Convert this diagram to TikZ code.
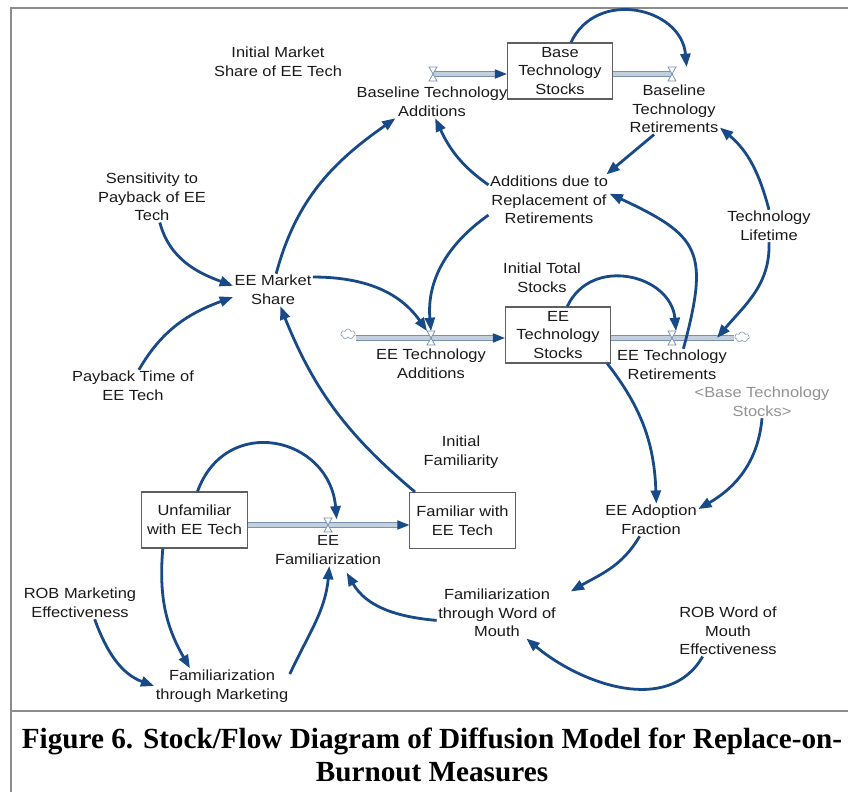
\documentclass[tikz,border=0pt]{standalone}
\usepackage{fontspec}
\setmainfont{Liberation Sans}[FakeStretch=1.12]
\newfontfamily\capfont{Liberation Serif}
\usetikzlibrary{arrows.meta,shapes.symbols}

\definecolor{linkblue}{RGB}{23,74,135}
\definecolor{pipeline}{RGB}{120,145,175}
\definecolor{pipefill}{RGB}{196,207,220}
\definecolor{framegray}{RGB}{140,140,140}
\definecolor{boxgray}{RGB}{95,95,95}
\definecolor{ghostgray}{RGB}{145,145,145}
\definecolor{labelgray}{RGB}{25,25,25}

\pgfdeclarelayer{back}
\pgfsetlayers{back,main}

\begin{document}
\begin{tikzpicture}[
  x=0.75pt, y=0.75pt,
  var/.style={align=center,inner sep=1pt,text=labelgray,font=\fontsize{11}{13.9}\selectfont},
  ghost/.style={var,text=ghostgray},
  stock/.style={var,draw=boxgray,line width=0.8pt,minimum width=79pt,minimum height=42pt},
  valve/.style={inner sep=0pt,minimum width=5.5pt,minimum height=10pt,
    append after command={\pgfextra{\draw[pipeline,line width=0.6pt,fill=white]
      (\tikzlastnode.north west) -- (\tikzlastnode.north east) --
      (\tikzlastnode.south west) -- (\tikzlastnode.south east) -- cycle;}}},
  cloudy/.style={cloud,cloud puffs=7,draw=pipeline,fill=white,inner sep=0pt,
    minimum width=11pt,minimum height=7.5pt},
  pipe/.style={draw=pipeline,double=pipefill,double distance=2.4pt,line width=0.8pt},
  pipehead/.style={-{Triangle[length=9pt,width=7pt,color=linkblue]}},
  link/.style={draw=linkblue,line width=2.1pt,-{Triangle[length=10pt,width=7.5pt]}}
]
\useasboundingbox (0,0) rectangle (848,-791);

% stocks
\node[stock] (bstock) at (560,-71) {Base\\Technology\\Stocks};
\node[stock] (eestock) at (558,-335) {EE\\Technology\\Stocks};
\node[stock] (unfam) at (194.5,-520) {Unfamiliar\\with EE Tech};
\node[stock] (fam) at (462.5,-520.5) {Familiar with\\EE Tech};

% valves and clouds
\node[cloudy] (srcee) at (348,-334) {};
\node[cloudy] (sinkee) at (742,-337) {};
\node[valve] (vba) at (433,-74) {};
\node[valve] (vbr) at (672,-74) {};
\node[valve] (vea) at (431,-338) {};
\node[valve] (ver) at (672,-338) {};
\node[valve] (vfm) at (328,-525) {};
\coordinate (retpipe) at (717,-338);

% flows
\begin{pgfonlayer}{back}
  \draw[framegray,line width=1.5pt] (10.5,-8.5) rectangle (860,-800);
  \draw[framegray,line width=1.5pt] (10.5,-711) -- (860,-711);
  \draw[pipe,pipehead] (vba.center) -- (bstock.west |- vba);
  \draw[pipe] (bstock.east |- vbr) -- (vbr.center);
  \draw[pipe,pipehead] (srcee.east |- vea) -- (eestock.west |- vea);
  \draw[pipe] (eestock.east |- ver) -- (sinkee.west |- ver);
  \draw[pipe,pipehead] (unfam.east |- vfm) -- (fam.west |- vfm);
\end{pgfonlayer}

% variables
\node[var] (imset) at (278,-62) {Initial Market\\Share of EE Tech};
\node[var] (bta) at (432,-102) {Baseline Technology\\Additions};
\node[var] (btr) at (674,-109) {Baseline\\Technology\\Retirements};
\node[var] (adr) at (549,-200) {Additions due to\\Replacement of\\Retirements};
\node[var] (tlife) at (769,-226) {Technology\\Lifetime};
\node[var] (its) at (542,-278) {Initial Total\\Stocks};
\node[var] (sens) at (152,-197) {Sensitivity to\\Payback of EE\\Tech};
\node[var] (ems) at (273,-290) {EE Market\\Share};
\node[var] (pbt) at (133,-386) {Payback Time of\\EE Tech};
\node[var] (eta) at (431,-364) {EE Technology\\Additions};
\node[var] (etr) at (672,-365) {EE Technology\\Retirements};
\node[ghost] (bsref) at (762,-402) {<Base Technology\\Stocks>};
\node[var] (ifam) at (461,-452) {Initial\\Familiarity};
\node[var] (eeaf) at (651,-520) {EE Adoption\\Fraction};
\node[var] (eefam) at (328,-550) {EE\\Familiarization};
\node[var] (robm) at (80,-603) {ROB Marketing\\Effectiveness};
\node[var] (ftm) at (222,-686) {Familiarization\\through Marketing};
\node[var] (fwom) at (497,-613) {Familiarization\\through Word of\\Mouth};
\node[var] (robw) at (728,-631) {ROB Word of\\Mouth\\Effectiveness};

% causal links
\draw[link] (ems.79) to[out=75,in=215] (bta.204);
\draw[link] (sens.-73) to[out=-75,in=160] (ems.174);
\draw[link] (pbt.70) to[out=60,in=200] (ems.190);
\draw[link] (fam.149) to[out=140,in=-68] (ems.-66);
\draw[link] (ems.18) to[out=0,in=125] (vea.north west);
\draw[link] (adr.194) to[out=215,in=95] (vea.north);
\draw[link] (adr.166) to[out=145,in=-65] (bta.-79);
\draw[link] (btr.232) -- (adr.24);
\draw[link] (bstock.69) to[out=65,in=95,looseness=1.3] ([xshift=8pt]vbr.north east);
\draw[link] (tlife.north) to[out=105,in=-40] (btr.-22);
\draw[link] (tlife.south) to[out=-88,in=50] (retpipe);
\draw[link] (etr.55) to[out=75,in=-25,looseness=1.5] (adr.6);
\draw[link] (eestock.72) to[out=65,in=95,looseness=1.3] ([xshift=3pt]ver.north);
\draw[link] ([xshift=-3pt]eestock.south east) to[out=-52,in=92] ([xshift=4pt]eeaf.north);
\draw[link] (bsref.south) to[out=-95,in=30] (eeaf.13);
\draw[link] (eeaf.235) to[out=-120,in=30] ([shift={(10pt,-3pt)}]fwom.north east);
\draw[link] (fwom.187) to[out=175,in=-60] ([shift={(14pt,-5pt)}]eefam.south);
\draw[link] (ftm.10) to[out=65,in=-95] ([xshift=1pt]eefam.south);
\draw[link] (unfam.222) to[out=-95,in=120] ([xshift=-24pt]ftm.north);
\draw[link] ([xshift=11pt]robm.south) to[out=-70,in=160] (ftm.west);
\draw[link] ([xshift=-19pt]robw.south) to[out=-120,in=-40] (fwom.-41);
\draw[link] (unfam.84) to[out=70,in=95,looseness=1.5] ([shift={(6.5pt,-1pt)}]vfm.north);

% caption
\node[font=\capfont\bfseries\fontsize{21.9}{24.75}\selectfont,align=center] (cap) at (432,-754.5)
  {Figure 6. Stock/Flow Diagram of Diffusion Model for Replace-on-\\Burnout Measures};
\end{tikzpicture}
\end{document}
